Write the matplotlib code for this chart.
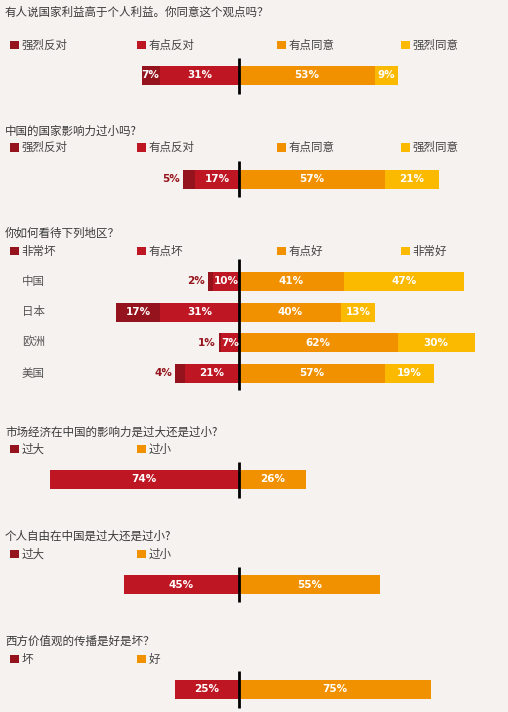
import matplotlib.pyplot as plt

plt.rcParams['font.family'] = ['Noto Sans CJK SC', 'DejaVu Sans']

# colours
DARK = '#95131c'
RED = '#be1622'
ORANGE = '#f29100'
YELLOW = '#fbb900'
BG = '#f6f2ef'

# --- data ---
q1_title = '有人说国家利益高于个人利益。你同意这个观点吗？'
q1_legend = ['强烈反对', '有点反对', '有点同意', '强烈同意']
q1_neg = [[7, 31]]          # strongly, somewhat (outer first)
q1_pos = [[53, 9]]          # somewhat, strongly (inner first)

q2_title = '中国的国家影响力过小吗?'
q2_legend = ['强烈反对', '有点反对', '有点同意', '强烈同意']
q2_neg = [[5, 17]]
q2_pos = [[57, 21]]

q3_title = '你如何看待下列地区？'
q3_legend = ['非常坏', '有点坏', '有点好', '非常好']
q3_rows = ['中国', '日本', '欧洲', '美国']
q3_neg = [[2, 10], [17, 31], [1, 7], [4, 21]]
q3_pos = [[41, 47], [40, 13], [62, 30], [57, 19]]

q4_title = '市场经济在中国的影响力是过大还是过小?'
q4_legend = ['过大', '过小']
q4_neg = [[74]]
q4_pos = [[26]]

q5_title = '个人自由在中国是过大还是过小?'
q5_legend = ['过大', '过小']
q5_neg = [[45]]
q5_pos = [[55]]

q6_title = '西方价值观的传播是好是坏？'
q6_legend = ['坏', '好']
q6_neg = [[25]]
q6_pos = [[75]]

# --- layout (pixels, figure is 508 x 712) ---
W, H = 508, 712
ZERO = 239
SCALE = 2.56  # px per percent


def px(x):
    return (x - ZERO) / SCALE


fig = plt.figure(figsize=(W / 100, H / 100), dpi=100, facecolor=BG)
ax = fig.add_axes([0, 0, 1, 1])
ax.set_facecolor(BG)
ax.set_xlim(px(0), px(W))
ax.set_ylim(H, 0)
ax.axis('off')

legend_x = [10, 137, 277, 401]
BAR_H = 19
FS = 8.3


def panel(title, legend, neg, pos, title_y, legend_y, bar_y, line, rows=None, four=True):
    ax.text(px(5), title_y, title, fontsize=FS, color='#3a3a3a', va='center', ha='left')
    if four:
        lcols = [DARK, RED, ORANGE, YELLOW]
    else:
        lcols = [DARK, ORANGE]
    for i, lab in enumerate(legend):
        ax.bar(px(legend_x[i] + 4.5), 8.5, width=9 / SCALE, bottom=legend_y - 4.25,
               color=lcols[i], linewidth=0)
        ax.text(px(legend_x[i] + 11.5), legend_y, lab, fontsize=FS, color='#444444',
                va='center', ha='left')
    for r in range(len(neg)):
        y = bar_y[r]
        n = neg[r]
        p = pos[r]
        # negative side: inner segment next to the axis, outer beyond it
        if len(n) == 2:
            outer, inner = n
            segs_neg = [(0, inner, RED), (inner, outer, DARK)]
        else:
            segs_neg = [(0, n[0], RED)]
        for start, val, c in segs_neg:
            ax.barh(y, -val, left=-start, height=BAR_H, color=c, linewidth=0)
            if val >= 6:
                ax.text(-start - val / 2, y, '%d%%' % val, color='white', fontsize=7.5,
                        fontweight='bold', family='DejaVu Sans', ha='center', va='center')
            else:
                ax.text(-start - val - 1.2, y, '%d%%' % val, color=DARK, fontsize=7.5,
                        fontweight='bold', family='DejaVu Sans', ha='right', va='center')
        left = 0
        pcols = [ORANGE, YELLOW]
        for j, val in enumerate(p):
            ax.barh(y, val, left=left, height=BAR_H, color=pcols[j], linewidth=0)
            ax.text(left + val / 2, y, '%d%%' % val, color='white', fontsize=7.5,
                    fontweight='bold', family='DejaVu Sans', ha='center', va='center')
            left += val
        if rows:
            ax.text(px(22), y, rows[r], fontsize=FS, color='#555555', va='center', ha='left')
    ax.plot([0, 0], line, color='black', linewidth=2, solid_capstyle='butt')


panel(q1_title, q1_legend, q1_neg, q1_pos, 12.5, 45, [75.2], (57.5, 94))
panel(q2_title, q2_legend, q2_neg, q2_pos, 131, 147.5, [179], (161, 197))
panel(q3_title, q3_legend, q3_neg, q3_pos, 233, 251, [281.5, 312, 342.5, 373.5], (259, 390),
      rows=q3_rows)
panel(q4_title, q4_legend, q4_neg, q4_pos, 432, 449, [479.5], (462, 498), four=False)
panel(q5_title, q5_legend, q5_neg, q5_pos, 536, 554, [584.5], (567, 602), four=False)
panel(q6_title, q6_legend, q6_neg, q6_pos, 641, 659, [689.5], (671, 707.5), four=False)

fig.savefig('out.png', dpi=100, facecolor=BG)
